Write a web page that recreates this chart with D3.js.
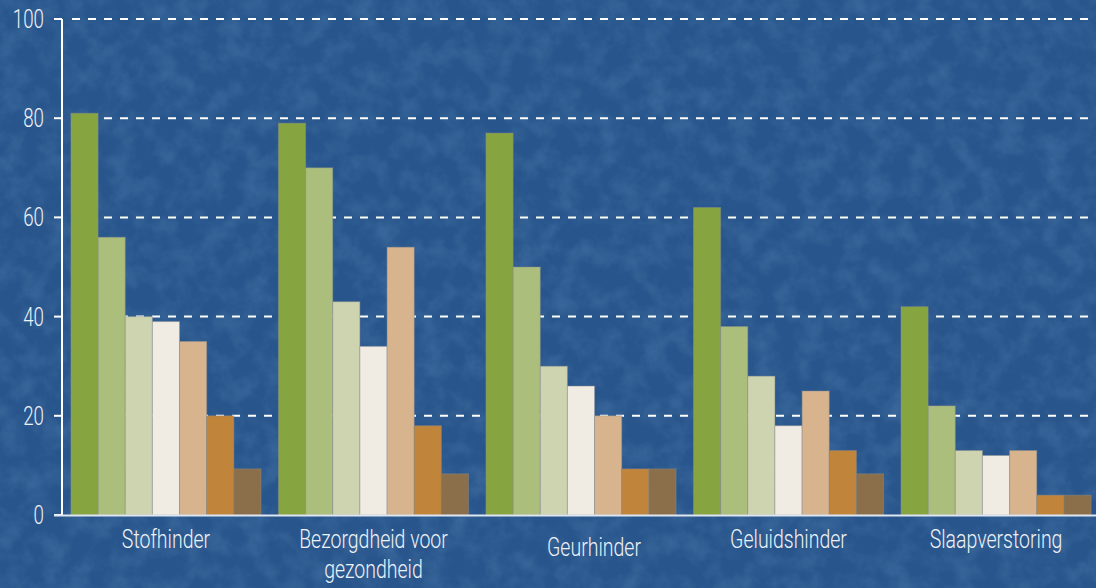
<!doctype html>
<html>
<head>
<meta charset="utf-8">
<script src="https://d3js.org/d3.v7.min.js"></script>
<style>
  html, body { margin: 0; padding: 0; background: #2a588c; }
  svg { display: block; }
  text { font-family: "Roboto", "Liberation Sans", sans-serif; fill: #eef2f7; }
</style>
</head>
<body>
<div id="chart"></div>
<script>
// categories (x-axis groups), one label line per array item
var categories = ["Stofhinder", "Bezorgdheid voor gezondheid", "Geurhinder", "Geluidshinder", "Slaapverstoring"];
var categoryLines = [["Stofhinder"], ["Bezorgdheid voor", "gezondheid"], ["Geurhinder"], ["Geluidshinder"], ["Slaapverstoring"]];

// seven series, one value per category (percentages)
var series1 = [81, 79, 77, 62, 42];
var series2 = [56, 70, 50, 38, 22];
var series3 = [40, 43, 30, 28, 13];
var series4 = [39, 34, 26, 18, 12];
var series5 = [35, 54, 20, 25, 13];
var series6 = [20, 18, 9.3, 13, 4];
var series7 = [9.3, 8.3, 9.3, 8.3, 4];

var yTicks = [0, 20, 40, 60, 80, 100];

var allSeries = [series1, series2, series3, series4, series5, series6, series7];
var colors = ["#86a541", "#abbe7b", "#cdd4af", "#f0ece4", "#d8b48e", "#c0843b", "#8b6f4a"];

var width = 1096, height = 588;
var mLeft = 62, mRight = 1100, mTop = 19, mBottom = 515;

var svg = d3.select("#chart").append("svg")
    .attr("width", width)
    .attr("height", height);

// textured blue background
var defs = svg.append("defs");
var f = defs.append("filter").attr("id", "tex").attr("x", 0).attr("y", 0).attr("width", 1).attr("height", 1);
f.append("feTurbulence").attr("type", "fractalNoise").attr("baseFrequency", "0.045").attr("numOctaves", 4).attr("seed", 7);
f.append("feColorMatrix").attr("type", "matrix")
  .attr("values", "0 0 0 0 0.30  0 0 0 0 0.50  0 0 0 0 0.78  0.8 0 0 0 -0.3");
svg.append("rect").attr("width", width).attr("height", height).attr("fill", "#28568c");
svg.append("rect").attr("width", width).attr("height", height).attr("filter", "url(#tex)").attr("opacity", 0.4);

// scales
var x0 = d3.scaleBand()
    .domain(categories)
    .range([mLeft, mRight])
    .paddingInner(0.084)
    .paddingOuter(0.043);

var x1 = d3.scaleBand()
    .domain(d3.range(allSeries.length))
    .range([0, x0.bandwidth()]);

var y = d3.scaleLinear()
    .domain([0, 100])
    .range([mBottom, mTop]);

// dashed gridlines + small ticks
svg.selectAll("line.grid")
  .data(yTicks.filter(function(d) { return d > 0; }))
  .enter().append("line")
    .attr("class", "grid")
    .attr("x1", mLeft + 10).attr("x2", width)
    .attr("y1", function(d) { return y(d); })
    .attr("y2", function(d) { return y(d); })
    .attr("stroke", "#ffffff")
    .attr("stroke-width", 2)
    .attr("stroke-dasharray", "8,8");

svg.selectAll("line.tick")
  .data(yTicks)
  .enter().append("line")
    .attr("class", "tick")
    .attr("x1", mLeft - 8).attr("x2", mLeft)
    .attr("y1", function(d) { return y(d); })
    .attr("y2", function(d) { return y(d); })
    .attr("stroke", "#ffffff")
    .attr("stroke-width", 2);

// bars
var groups = svg.selectAll("g.group")
  .data(categories)
  .enter().append("g")
    .attr("class", "group")
    .attr("transform", function(d) { return "translate(" + x0(d) + ",0)"; });

groups.selectAll("rect")
  .data(function(d, i) { return allSeries.map(function(s, k) { return {k: k, value: s[i]}; }); })
  .enter().append("rect")
    .attr("x", function(d) { return x1(d.k); })
    .attr("width", x1.bandwidth())
    .attr("y", function(d) { return y(d.value); })
    .attr("height", function(d) { return y(0) - y(d.value); })
    .attr("fill", function(d) { return colors[d.k]; })
    .attr("stroke", "rgba(140,140,140,0.45)")
    .attr("stroke-width", 1);

// axes lines
svg.append("line")
    .attr("x1", mLeft).attr("x2", mLeft)
    .attr("y1", y(100)).attr("y2", y(0))
    .attr("stroke", "#ffffff").attr("stroke-width", 2);

svg.append("line")
    .attr("x1", mLeft - 8).attr("x2", width)
    .attr("y1", y(0) + 0.5).attr("y2", y(0) + 0.5)
    .attr("stroke", "#dfe6f0").attr("stroke-width", 2);

// y tick labels (condensed)
svg.selectAll("text.ylab")
  .data(yTicks)
  .enter().append("text")
    .attr("class", "ylab")
    .attr("transform", function(d) { return "translate(44," + (y(d) + 9) + ") scale(0.72,1)"; })
    .attr("text-anchor", "end")
    .style("font-size", "26px")
    .style("font-weight", 300)
    .text(function(d) { return d; });

// category labels
var labelShift = [0, 0, 8, 0, 0];
svg.selectAll("g.xlab")
  .data(categories)
  .enter().append("g")
    .attr("class", "xlab")
    .attr("transform", function(d, i) {
      var cx = x0(d) + x0.bandwidth() / 2 + (i == 2 ? 13 : 0);
      return "translate(" + cx + "," + (548 + labelShift[i]) + ") scale(0.78,1)";
    })
  .each(function(d, i) {
    var t = d3.select(this).append("text")
        .attr("text-anchor", "middle")
        .style("font-size", "25px")
        .style("font-weight", 300);
    categoryLines[i].forEach(function(line, j) {
      t.append("tspan").attr("x", 0).attr("y", j * 30).text(line);
    });
  });
</script>
</body>
</html>
